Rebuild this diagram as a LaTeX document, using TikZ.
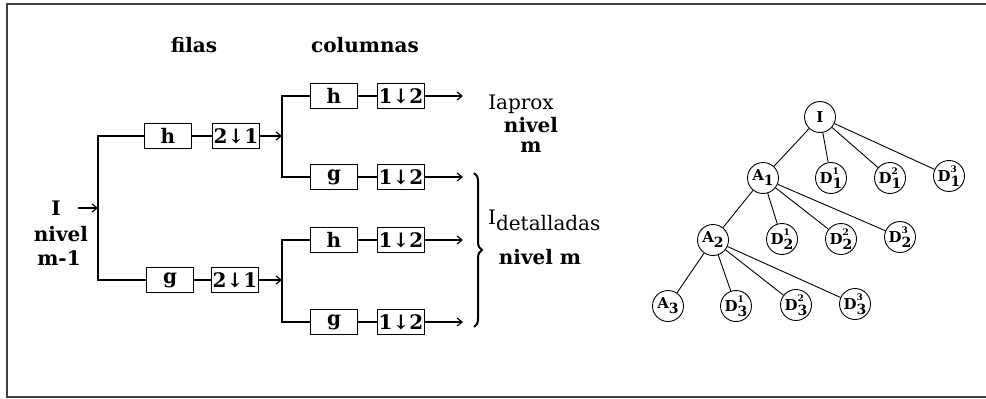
\documentclass[tikz,border=0pt]{standalone}
\usepackage{fontspec}
\setmainfont{DejaVu Serif}
\usetikzlibrary{arrows.meta,decorations.pathreplacing}
% letter with a small index above and a larger one below
\newcommand\idxlab[3]{#1\rlap{\raisebox{9pt}{\fontsize{9}{9}\selectfont #2}}\raisebox{-5pt}{\fontsize{14}{14}\selectfont #3}}
\begin{document}
\begin{tikzpicture}[x=1pt,y=-1pt,
  filt/.style={draw, line width=1.2pt, minimum width=47pt, minimum height=25pt, inner sep=0pt,
    font=\fontsize{20}{20}\selectfont\bfseries},
  wire/.style={line width=1.2pt},
  arr/.style={wire, -{Straight Barb[length=5pt,width=8pt]}},
  txt/.style={inner sep=0pt, font=\fontsize{20}{22}\selectfont\bfseries},
  txtlight/.style={inner sep=0pt, font=\fontsize{20}{22}\selectfont},
  leaf/.style={circle, draw, line width=0.9pt, minimum size=31pt, inner sep=0pt,
    font=\fontsize{15}{15}\selectfont\bfseries},
  branch/.style={line width=0.9pt}]
\useasboundingbox (0,0) rectangle (986,399);
% frame
\draw[line width=1.3pt, black!75] (986,4) -- (7,4) -- (7,397) -- (986,397);

% headings
\node[txt] (filas) at (194,45) {filas};
\node[txt] (cols) at (365,45) {columnas};

% input
\node[txt] (inI) at (56,208) {I};
\node[txt] (inN) at (61,234) {nivel};
\node[txt] (inM) at (59,258) {m-1};
\coordinate (inA) at (78,208);
\coordinate (s1m) at (98,208);
\coordinate (s1t) at (98,136);
\coordinate (s1b) at (98,280);

% row filters
\node[filt] (rh) at (168,136) {h};
\node[filt] (rhd) at (236,136) {2↓1};
\node[filt] (rg) at (170,280) {g};
\node[filt] (rgd) at (235,280) {2↓1};

% column filters, upper branch
\coordinate (s2t) at (282,96);
\coordinate (s2m) at (282,136);
\coordinate (s2b) at (282,177);
\node[filt] (chh) at (334,96) {h};
\node[filt] (chhd) at (401,96) {1↓2};
\node[filt] (chg) at (334,177) {g};
\node[filt] (chgd) at (401,177) {1↓2};
\coordinate (o1) at (463,96);
\coordinate (o2) at (463,177);

% column filters, lower branch
\coordinate (s3t) at (282,240);
\coordinate (s3m) at (282,280);
\coordinate (s3b) at (282,322);
\node[filt] (cgh) at (334,240) {h};
\node[filt] (cghd) at (401,240) {1↓2};
\node[filt] (cgg) at (334,322) {g};
\node[filt] (cggd) at (401,322) {1↓2};
\coordinate (o3) at (463,240);
\coordinate (o4) at (463,322);

% connections
\draw[arr] (inA) -- (s1m);
\draw[wire] (rh.west) -- (s1t) -- (s1b) -- (rg.west);
\draw[wire] (rh) -- (rhd);
\draw[wire] (rg) -- (rgd);
\draw[arr] (rhd) -- (s2m);
\draw[arr] (rgd) -- (s3m);
\draw[wire] (chh.west) -- (s2t) -- (s2b) -- (chg.west);
\draw[wire] (cgh.west) -- (s3t) -- (s3b) -- (cgg.west);
\draw[wire] (chh) -- (chhd);
\draw[wire] (chg) -- (chgd);
\draw[wire] (cgh) -- (cghd);
\draw[wire] (cgg) -- (cggd);
\draw[arr] (chhd) -- (o1);
\draw[arr] (chgd) -- (o2);
\draw[arr] (cghd) -- (o3);
\draw[arr] (cggd) -- (o4);

% outputs
\node[txtlight] (ap1) at (521,104) {Iaprox};
\node[txt] (ap2) at (531,125) {nivel};
\node[txt] (ap3) at (531,147) {m};
\coordinate (bt) at (474,173);
\coordinate (bb) at (474,327);
\draw[line width=2pt, decorate, decoration={brace, amplitude=8pt}] (bt) -- (bb);
\node[txtlight, anchor=west] (det) at (488,220) {I\raisebox{-6pt}{detalladas}};
\node[txt] (detn) at (540,257) {nivel m};

% decomposition tree
\node[leaf] (r) at (820,117) {I};
\node[leaf] (a1) at (763,178) {\idxlab{A}{}{1}};
\node[leaf] (d11) at (831,178) {\idxlab{D}{1}{1}};
\node[leaf] (d12) at (890,178) {\idxlab{D}{2}{1}};
\node[leaf] (d13) at (949,176) {\idxlab{D}{3}{1}};
\node[leaf] (a2) at (713,240) {\idxlab{A}{}{2}};
\node[leaf] (d21) at (782,239) {\idxlab{D}{1}{2}};
\node[leaf] (d22) at (841,239) {\idxlab{D}{2}{2}};
\node[leaf] (d23) at (900,237) {\idxlab{D}{3}{2}};
\node[leaf] (a3) at (668,306) {\idxlab{A}{}{3}};
\node[leaf] (d31) at (736,306) {\idxlab{D}{1}{3}};
\node[leaf] (d32) at (796,305) {\idxlab{D}{2}{3}};
\node[leaf] (d33) at (855,304) {\idxlab{D}{3}{3}};
\foreach \p/\c in {r/a1, r/d11, r/d12, r/d13,
                   a1/a2, a1/d21, a1/d22, a1/d23,
                   a2/a3, a2/d31, a2/d32, a2/d33}
  \draw[branch] (\p) -- (\c);
\end{tikzpicture}
\end{document}
